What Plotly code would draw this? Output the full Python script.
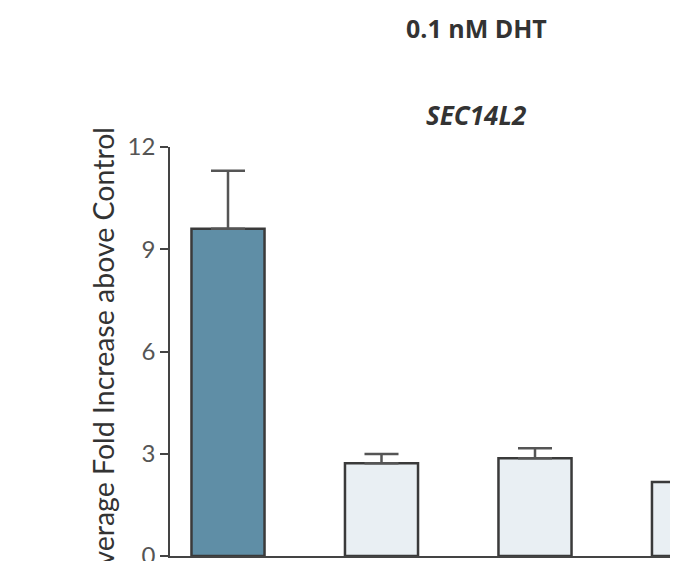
import plotly.graph_objects as go

groups = [0, 1, 2, 3]
values = [9.6, 2.72, 2.87, 2.17]
err_up = [1.7, 0.27, 0.29, 0.21]
bar_colors = ["#5f8ea6", "#e9eff3", "#e9eff3", "#e9eff3"]
y_ticks = [0, 3, 6, 9, 12]

# page body has an 8px margin; figure coordinates = screen - 8
FIG_W, FIG_H = 678, 561
L, T, B, R = 162, 139, 552, 678
W = R - L
H = B - T
SPACING = 153.5  # px between bar centres
X0 = -(228 - 8 - L) / SPACING
X1 = X0 + W / SPACING


def px(xs):
    return (xs - 8 - L) / W


def py(ys):
    return (B - (ys - 8)) / H


fig = go.Figure()
fig.add_trace(go.Bar(
    x=groups, y=values, width=0.476,
    marker=dict(color=bar_colors, line=dict(color="#3a3a3a", width=2.5)),
    error_y=dict(type="data", symmetric=False, array=err_up,
                 arrayminus=[0] * len(values),
                 color="#555555", thickness=2.5, width=17),
    showlegend=False,
))

fig.update_layout(
    width=FIG_W, height=FIG_H,
    margin=dict(l=L, r=FIG_W - R, t=T, b=FIG_H - B),
    paper_bgcolor="white", plot_bgcolor="white",
    font=dict(family="Lato, Open Sans, sans-serif", color="#444444"),
    xaxis=dict(range=[X0, X1], showticklabels=False, showgrid=False,
               zeroline=False, showline=True, linecolor="#444444", linewidth=2,
               ticks=""),
    yaxis=dict(range=[0, 12], tickvals=y_ticks, showgrid=False, zeroline=False,
               showline=True, linecolor="#444444", linewidth=1.5,
               ticks="outside", ticklen=8, tickwidth=1.5, tickcolor="#444444",
               tickfont=dict(size=24, color="#555555"), ticklabelstandoff=0,
               ticklabeloverflow="allow"),
    annotations=[
        dict(text="<b>0.1 nM DHT</b>", xref="paper", yref="paper",
             x=px(476), y=py(27), xanchor="center", yanchor="middle",
             showarrow=False, font=dict(size=25, color="#333333",
                                        family="Open Sans, sans-serif")),
        dict(text="<b><i>SEC14L2</i></b>", xref="paper", yref="paper",
             x=px(476), y=py(115), xanchor="center", yanchor="middle",
             showarrow=False,
             font=dict(size=26, color="#333333", family="Open Sans, sans-serif")),
        dict(text="Average Fold Increase above Control", textangle=-90,
             xref="paper", yref="paper", x=px(103), y=py(125),
             xanchor="center", yanchor="top",
             showarrow=False, font=dict(size=28.5, color="#333333")),
    ],
)

fig.write_html("out.html")
